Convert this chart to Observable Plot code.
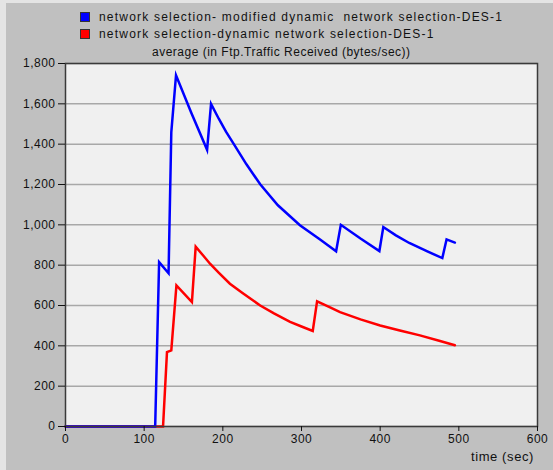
<!DOCTYPE html>
<html>
<head>
<meta charset="utf-8">
<script src="https://cdn.jsdelivr.net/npm/d3@7"></script>
<script src="https://cdn.jsdelivr.net/npm/@observablehq/plot@0.6"></script>
<style>
  body { margin: 0; background: #c0c0c0; }
  #chart {
    position: relative; width: 553px; height: 470px; overflow: hidden;
    background: #c0c0c0; font-family: Arial, "Liberation Sans", sans-serif; color: #111;
  }
  .edge-left { position: absolute; left: 0; top: 0; width: 6px; height: 470px; background: #e4e4e4; }
  .edge-top { position: absolute; left: 0; top: 0; width: 553px; height: 3px; background: #e4e4e4; }
  .legend-row { position: absolute; left: 80px; height: 14px; font-size: 12px; line-height: 14px; letter-spacing: 1.2px; white-space: pre; }
  .swatch { position: absolute; left: 0; top: 2px; width: 8px; height: 8px; border: 1px solid #333; }
  .legend-row span.t { position: absolute; left: 19px; top: 0; }
  #title { position: absolute; left: 152px; top: 45px; font-size: 12px; line-height: 14px; letter-spacing: 0.5px; white-space: pre; }
  #xlabel { position: absolute; right: 19px; top: 449px; font-size: 13px; line-height: 16px; letter-spacing: 0.6px; white-space: pre; }
  #plot { position: absolute; left: 0; top: 55px; }
  #plot svg text { letter-spacing: 0.5px; }
</style>
</head>
<body>
<div id="chart">
  <div class="edge-left"></div>
  <div class="edge-top"></div>
  <div id="legend"></div>
  <div id="title"></div>
  <div id="plot"></div>
  <div id="xlabel"></div>
</div>
<script>
// Series names and colours
const seriesNames = [
  "network selection- modified dynamic  network selection-DES-1",
  "network selection-dynamic network selection-DES-1"
];
const seriesColors = ["#0000ff", "#ff0000"];
const chartTitle = "average (in Ftp.Traffic Received (bytes/sec))";
const xLabel = "time (sec)";

// Axis ticks
const xTicks = [0, 100, 200, 300, 400, 500, 600];
const yTicks = [0, 200, 400, 600, 800, 1000, 1200, 1400, 1600, 1800];

// Modified dynamic network selection (blue)
const blueTime  = [0, 114, 119, 131, 134.5, 140.5, 160, 180, 185, 195, 204, 213.6, 230, 247.5, 270, 298, 323.6, 344,
                   350, 375, 399, 404, 420, 437, 460, 479, 484.4, 495];
const blueValue = [0, 0, 815, 760, 1460, 1742, 1555, 1372, 1600, 1525, 1462, 1403, 1300, 1201, 1097, 998, 927, 869,
                   1000, 932, 870, 989, 948, 910, 868, 835, 928, 912];

// Dynamic network selection (red)
const redTime  = [0, 124, 129, 134.5, 141, 160.7, 165.5, 175, 184, 195, 209, 225, 247.5, 265, 285.5, 300, 314.3,
                  319.8, 335, 349, 375, 400, 425, 450.5, 475, 495];
const redValue = [0, 0, 369, 377, 700, 617, 892, 848, 806, 762, 708, 662, 600, 561, 519, 496, 474,
                  621, 593, 567, 531, 501, 476, 452, 425, 403];

const blue = blueTime.map((t, i) => ({time: t, value: blueValue[i]}));
const red = redTime.map((t, i) => ({time: t, value: redValue[i]}));

// Legend
const legend = document.getElementById("legend");
seriesNames.forEach((name, i) => {
  const row = document.createElement("div");
  row.className = "legend-row";
  row.style.top = (10 + i * 17) + "px";
  const sw = document.createElement("div");
  sw.className = "swatch";
  sw.style.background = seriesColors[i];
  const t = document.createElement("span");
  t.className = "t";
  t.textContent = name;
  row.appendChild(sw);
  row.appendChild(t);
  legend.appendChild(row);
});
document.getElementById("title").textContent = chartTitle;
document.getElementById("xlabel").textContent = xLabel;

const lineStyle = {x: "time", y: "value", strokeWidth: 2.5, strokeLinejoin: "miter", strokeMiterlimit: 10};

const plot = Plot.plot({
  width: 553,
  height: 415,
  marginLeft: 65,
  marginRight: 16,
  marginTop: 8,
  marginBottom: 44,
  style: {background: "transparent", fontFamily: "Arial, 'Liberation Sans', sans-serif", fontSize: "12px", color: "#111", overflow: "visible"},
  x: {domain: [0, 600]},
  y: {domain: [0, 1800]},
  marks: [
    Plot.frame({fill: "#f0f0f0"}),
    Plot.gridY(yTicks, {stroke: "#a8a8a8", strokeOpacity: 1, strokeWidth: 1.5}),
    Plot.line(red, {...lineStyle, stroke: seriesColors[1]}),
    Plot.line(blue, {...lineStyle, stroke: seriesColors[0]}),
    Plot.frame({stroke: "#3a3a3a", strokeWidth: 1.5}),
    Plot.axisX({ticks: xTicks, tickFormat: d => String(d), tickSize: 5, tickPadding: 3, label: null}),
    Plot.axisY({ticks: yTicks, tickFormat: d3.format(","), tickSize: 7, tickPadding: 3, label: null})
  ]
});
document.getElementById("plot").appendChild(plot);
</script>
</body>
</html>
